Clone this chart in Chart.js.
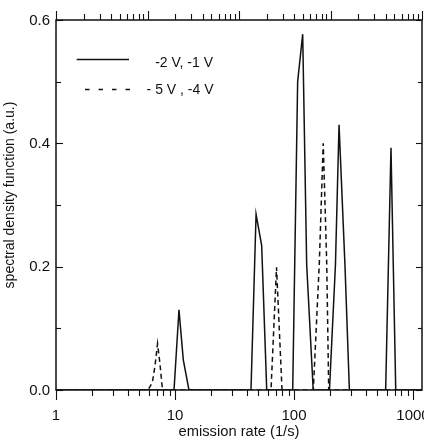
<!DOCTYPE html>
<html><head><meta charset="utf-8">
<script src="https://cdn.jsdelivr.net/npm/chart.js@4/dist/chart.umd.min.js"></script>
<style>html,body{margin:0;padding:0;background:#fff;}#wrap{width:424px;height:441px;}</style>
</head><body><div id="wrap"><canvas id="c" width="424" height="441"></canvas></div>
<script>
// ---- data ----
const seriesLabels = ['-2 V, -1 V', '- 5 V , -4 V'];
const solidX = [1, 9.81, 10.8, 11.74, 13.1, 43.5, 48, 53.5, 59, 97.5, 107.3, 118.3, 127.8, 145, 198.6, 223, 239, 268, 292, 589, 653, 716, 1190];
const solidY = [0, 0, 0.130, 0.049, 0, 0, 0.285, 0.234, 0, 0, 0.500, 0.577, 0.203, 0, 0, 0.203, 0.430, 0.203, 0, 0, 0.393, 0, 0];
const dashedX = [1, 5.93, 6.45, 6.8, 7.13, 7.45, 7.85, 64.1, 71.3, 79.3, 145.3, 163.2, 176, 188.3, 195.7, 1190];
const dashedY = [0, 0, 0.012, 0.040, 0.075, 0.045, 0, 0, 0.199, 0, 0, 0.206, 0.400, 0.206, 0, 0];
const xTickValues = [1, 10, 100, 1000];
const xTickLabels = ['1', '10', '100', '1000'];
const yTickValues = [0, 0.2, 0.4, 0.6];
const yTickLabels = ['0.0', '0.2', '0.4', '0.6'];
const xTitle = 'emission rate (1/s)';
const yTitle = 'spectral density function (a.u.)';

const TICKFONT = '15px "Liberation Sans", Arial, sans-serif';
const TITLEFONT = '14.7px "Liberation Sans", Arial, sans-serif';
const LEGFONT = '14px "Liberation Sans", Arial, sans-serif';
const INK = '#111';

function pts(xs, ys) { return xs.map((v, i) => ({ x: v, y: ys[i] })); }

function seg(ctx, x1, y1, x2, y2) { ctx.beginPath(); ctx.moveTo(x1, y1); ctx.lineTo(x2, y2); ctx.stroke(); }

const axesPlugin = {
  id: 'axesPlugin',
  afterDraw(chart) {
    const { ctx, chartArea: a, scales } = chart;
    const x = scales.x, x2 = scales.x2, y = scales.y;
    ctx.save();
    ctx.strokeStyle = INK;
    ctx.lineWidth = 1.5;
    ctx.strokeRect(a.left, a.top, a.right - a.left, a.bottom - a.top);
    ctx.lineWidth = 1.1;
    // bottom ticks (outward)
    for (let d = 0; d < 4; d++) for (let m = 1; m <= 9; m++) {
      const v = m * Math.pow(10, d);
      if (v < x.min || v > x.max) continue;
      const px = Math.round(x.getPixelForValue(v)) + 0.5;
      seg(ctx, px, a.bottom, px, a.bottom + (m === 1 ? 10 : 6));
    }
    // top ticks (outward) on the 4-decade top axis
    for (let d = 0; d <= 4; d++) for (let m = 1; m <= 9; m++) {
      const v = m * Math.pow(10, d);
      if (v < x2.min || v > x2.max) continue;
      const px = Math.round(x2.getPixelForValue(v)) + 0.5;
      seg(ctx, px, a.top, px, a.top - (m === 1 ? 9 : 6));
    }
    // left & right ticks (inward)
    for (let k = 0; k <= 6; k++) {
      const v = k / 10;
      const py = Math.round(y.getPixelForValue(v)) + 0.5;
      const major = k % 2 === 0;
      seg(ctx, a.left, py, a.left + (major ? 7 : 5), py);
      seg(ctx, a.right, py, a.right - (major ? 6 : 4), py);
    }
    // tick labels
    ctx.fillStyle = INK;
    ctx.font = TICKFONT;
    ctx.textAlign = 'center';
    ctx.textBaseline = 'alphabetic';
    xTickValues.forEach((v, i) => ctx.fillText(xTickLabels[i], x.getPixelForValue(v), 419.5));
    ctx.textAlign = 'right';
    ctx.textBaseline = 'middle';
    yTickValues.forEach((v, i) => ctx.fillText(yTickLabels[i], 50, y.getPixelForValue(v) + 0.5));
    // axis titles
    ctx.font = TITLEFONT;
    ctx.textAlign = 'center';
    ctx.textBaseline = 'alphabetic';
    ctx.fillText(xTitle, (a.left + a.right) / 2, 435.5);
    ctx.save();
    ctx.translate(13.5, 195);
    ctx.rotate(-Math.PI / 2);
    ctx.font = '14px "Liberation Sans", Arial, sans-serif';
    ctx.fillText(yTitle, 0, 0);
    ctx.restore();
    // legend
    const ds = chart.data.datasets;
    ctx.lineWidth = 1.5;
    ctx.setLineDash([]);
    seg(ctx, 76.7, 59.5, 129, 59.5);
    ctx.setLineDash([4.5, 9]);
    seg(ctx, 85, 89.5, 131.5, 89.5);
    ctx.setLineDash([]);
    ctx.font = LEGFONT;
    ctx.textAlign = 'right';
    ctx.fillText(ds[0].label, 213, 66.5);
    ctx.fillText(ds[1].label, 213.5, 94.3);
    ctx.restore();
  }
};

new Chart(document.getElementById('c'), {
  type: 'line',
  data: {
    datasets: [
      { label: seriesLabels[0], data: pts(solidX, solidY), borderColor: INK, borderWidth: 1.5, pointRadius: 0, tension: 0, fill: false },
      { label: seriesLabels[1], data: pts(dashedX, dashedY), borderColor: INK, borderWidth: 1.5, borderDash: [5, 3.5], pointRadius: 0, tension: 0, fill: false }
    ]
  },
  options: {
    responsive: false,
    animation: false,
    devicePixelRatio: 1,
    layout: { padding: { left: 56, right: 2, top: 20, bottom: 51 } },
    plugins: { legend: { display: false }, tooltip: { enabled: false } },
    scales: {
      x: { type: 'logarithmic', min: 1, max: 1190, display: false },
      x2: { type: 'logarithmic', axis: 'x', position: 'top', min: 1, max: 10000, display: false },
      y: { type: 'linear', min: 0, max: 0.6, display: false }
    }
  },
  plugins: [axesPlugin]
});
</script>
</body></html>
